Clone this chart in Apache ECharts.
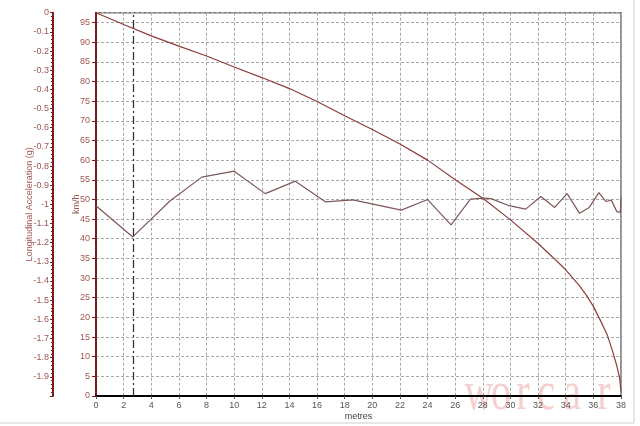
<!DOCTYPE html>
<html>
<head>
<meta charset="utf-8">
<script src="https://cdn.jsdelivr.net/npm/echarts@6/dist/echarts.min.js"></script>
<style>
html,body{margin:0;padding:0;background:#fff;}
#chart{width:640px;height:426px;}
</style>
</head>
<body>
<div id="chart"></div>
<script>
// Speed trace (km/h) vs distance (metres)
const speedX = [0, 2, 4, 6, 8, 10, 12, 14, 16, 18, 20, 22, 24, 26, 28, 30, 32, 33, 34, 35, 35.5, 36, 36.5, 37, 37.4, 37.7, 37.9, 38];
const speedKmh = [97.5, 94.5, 91.6, 89.0, 86.5, 83.7, 81.0, 78.2, 74.9, 71.3, 67.8, 64.1, 60.0, 55.0, 50.3, 44.8, 38.8, 35.5, 32.1, 28.0, 25.6, 22.8, 19.3, 15.6, 11.3, 7.6, 4.6, 1.2];
// Longitudinal acceleration (g) vs distance (metres)
const accX = [0, 2.66, 5.37, 7.66, 10.0, 12.25, 14.43, 16.6, 18.6, 22.1, 24.0, 25.7, 27.1, 28.0, 28.6, 29.9, 31.1, 32.2, 33.2, 34.1, 35.0, 35.7, 36.4, 36.9, 37.3, 37.7, 37.95, 38.0];
const accG = [-1.007, -1.170, -0.981, -0.858, -0.827, -0.944, -0.879, -0.987, -0.977, -1.030, -0.975, -1.107, -0.973, -0.968, -0.970, -1.007, -1.025, -0.959, -1.016, -0.944, -1.047, -1.016, -0.939, -0.985, -0.978, -1.038, -1.042, -0.964];
// Cursor position (metres)
const cursorX = 2.66;
// Titles
const xTitle = 'metres';
const speedTitle = 'km/h';
const accTitle = 'Longitudinal Acceleration (g)';
const watermarkLetters = ['w', 'o', 'r', 'c', 'a', 'r'];

const chart = echarts.init(document.getElementById('chart'), null, {renderer: 'canvas'});
const font = 'Liberation Sans, Arial, sans-serif';
const axisRed = '#7b1c1c';
const labelRed = '#a05555';

const wmCenters = [479, 501, 523, 546, 572, 604];
const graphic = watermarkLetters.map((ch, i) => ({
  type: 'text', x: wmCenters[i], y: 422, scaleX: 0.74, z: 0, silent: true,
  style: {text: ch, fontFamily: 'Liberation Serif, Times New Roman, serif', fontSize: 54,
          align: 'center', verticalAlign: 'bottom', fill: 'rgba(228,120,120,0.36)'}
}));
graphic.push(
  {type: 'line', shape: {x1: 634, y1: 0, x2: 634, y2: 423}, style: {stroke: '#cfcfcf', lineWidth: 1}},
  {type: 'line', shape: {x1: 0, y1: 423, x2: 634, y2: 423}, style: {stroke: '#cfcfcf', lineWidth: 1}}
);

const option = {
  animation: false,
  backgroundColor: '#fff',
  grid: {left: 96, right: 19, top: 12.7, bottom: 25, show: true, borderColor: '#6e6e6e', borderWidth: 1.5},
  xAxis: {
    type: 'value', min: 0, max: 38, interval: 2,
    name: xTitle, nameLocation: 'middle', nameGap: 16, nameMoveOverlap: false,
    nameTextStyle: {fontFamily: font, fontSize: 9, color: '#444'},
    axisLine: {show: true, lineStyle: {color: '#000', width: 2}},
    axisTick: {show: true, length: 3, lineStyle: {color: '#555'}},
    axisLabel: {fontFamily: font, fontSize: 9, color: '#555', margin: 5},
    splitLine: {show: true, lineStyle: {color: '#a8a8a8', type: [3, 2], width: 1}}
  },
  yAxis: [
    {
      type: 'value', min: 0, max: 97.5, interval: 5, position: 'left',
      name: speedTitle, nameLocation: 'middle', nameGap: 15, nameRotate: 90, nameMoveOverlap: false,
      nameTextStyle: {fontFamily: font, fontSize: 9, color: labelRed},
      axisLine: {show: true, lineStyle: {color: axisRed, width: 2}},
      axisTick: {show: true, length: 4, lineStyle: {color: axisRed}},
      axisLabel: {fontFamily: font, fontSize: 9, color: labelRed, margin: 6, showMaxLabel: false},
      splitLine: {show: true, lineStyle: {color: '#a8a8a8', type: [3, 2], width: 1}}
    },
    {
      type: 'value', min: -2, max: 0, interval: 0.1, position: 'left', offset: 43,
      name: accTitle, nameLocation: 'middle', nameGap: 19, nameRotate: 90, nameMoveOverlap: false,
      nameTextStyle: {fontFamily: font, fontSize: 9, color: labelRed},
      axisLine: {show: true, onZero: false, lineStyle: {color: axisRed, width: 2}},
      axisTick: {show: true, length: 3, lineStyle: {color: axisRed}},
      minorTick: {show: true, splitNumber: 5, length: 2, lineStyle: {color: axisRed}},
      axisLabel: {fontFamily: font, fontSize: 9, color: labelRed, margin: 4, showMinLabel: false},
      splitLine: {show: false}
    }
  ],
  graphic: graphic,
  series: [
    {
      type: 'line', name: 'Speed', xAxisIndex: 0, yAxisIndex: 0,
      data: speedX.map((x, i) => [x, speedKmh[i]]),
      showSymbol: false, smooth: false,
      lineStyle: {color: '#8e3b3b', width: 1.2},
      markLine: {
        silent: true, symbol: 'none', label: {show: false},
        lineStyle: {color: '#333', type: [8, 3, 2, 3], width: 1.3},
        data: [{xAxis: cursorX}]
      },
      z: 3
    },
    {
      type: 'line', name: 'Longitudinal Acceleration', xAxisIndex: 0, yAxisIndex: 1,
      data: accX.map((x, i) => [x, accG[i]]),
      showSymbol: false,
      lineStyle: {color: '#7d5858', width: 1.2},
      z: 3
    }
  ]
};
chart.setOption(option);
</script>
</body>
</html>
